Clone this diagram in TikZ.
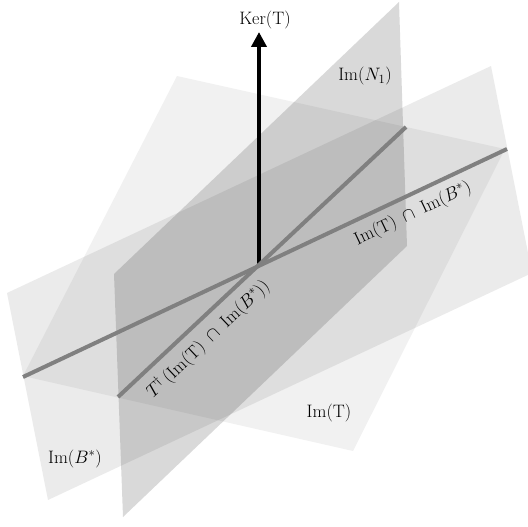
\RequirePackage{fix-cm}
\documentclass[tikz,border=0pt]{standalone}
\usetikzlibrary{arrows.meta}
\begin{document}
\begin{tikzpicture}[x=1pt,y=-1pt,
  plane/.style={fill=black,draw=none},
  isect/.style={draw=black!50,line width=4pt},
  lbl/.style={font=\fontsize{18}{21}\selectfont,inner sep=0pt},
  kerarrow/.style={draw=black,line width=4pt,-{Triangle[width=15pt,length=15pt]}}]
\useasboundingbox (0,0) rectangle (528,527);
\coordinate (O) at (259,264);
\coordinate (Ktip) at (259,32);
\draw[kerarrow] (O) -- (Ktip);
% planes
\fill[plane,opacity=0.055] (177,76) -- (505,149) -- (353,451) -- (23,376) -- cycle;
\fill[plane,opacity=0.08] (7,293) -- (491,66) -- (532,273) -- (48,500) -- cycle;
\fill[plane,opacity=0.15] (114,274) -- (399,2) -- (407,246) -- (123,517) -- cycle;
% intersection lines
\coordinate (A1) at (23,377);
\coordinate (A2) at (507,149);
\coordinate (B1) at (118,397);
\coordinate (B2) at (406,127);
\draw[isect] (A1) -- (A2);
\draw[isect] (B1) -- (B2);
% labels
\node[lbl] (ker) at (265,20) {Ker(T)};
\node[lbl] (imn) at (365,76) {Im$(N_1)$};
\node[lbl] (imt) at (329,413) {Im(T)};
\node[lbl] (imb) at (75,459) {Im$(B^*)$};
\node[lbl,rotate=25.5] (lab1) at (413,214) {Im(T)\,\ $\cap$\ \,Im$(B^*)$};
\node[lbl,rotate=43.5] (lab2) at (208,339) {$T^{\dagger}\,($Im(T)\,\ $\cap$\ \,Im$(B^*))$};
\end{tikzpicture}
\end{document}
